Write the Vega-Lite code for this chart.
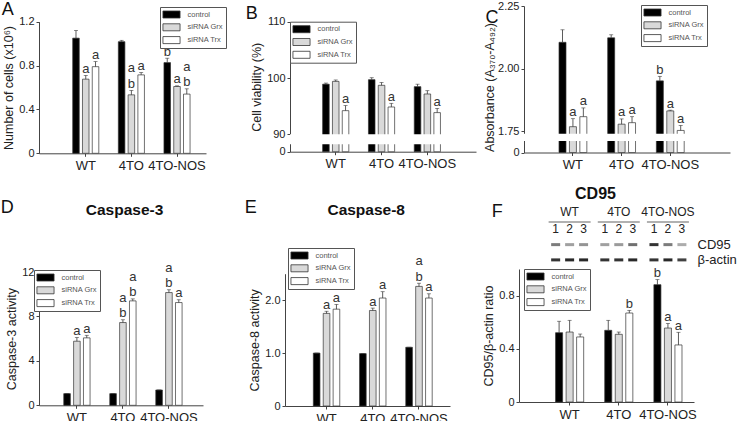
{
"$schema": "https://vega.github.io/schema/vega-lite/v6.json",
"padding": {"left": 0, "top": 0, "right": 0, "bottom": 0},
"background": "white",
"config": {
  "font": "Liberation Sans",
  "view": {"stroke": null},
  "axis": {"grid": false, "labelFont": "Liberation Sans", "titleFont": "Liberation Sans", "labelColor": "#222", "titleColor": "#222", "domainColor": "#444", "tickColor": "#444", "labelFontSize": 11, "titleFontSize": 12.5, "titleFontWeight": "normal", "tickSize": 3, "labelPadding": 2, "titlePadding": 3},
  "axisX": {"labelAngle": 0, "labelFontSize": 13, "labelPadding": 3},
  "axisY": {"labelOverlap": false},
  "legend": {"symbolType": "M-1.9,-0.78H1.9V0.78H-1.9Z", "symbolSize": 81, "symbolOffset": 4, "symbolStrokeColor": "#333", "symbolStrokeWidth": 0.8, "labelFontSize": 7.5, "labelColor": "#555", "labelFont": "Liberation Sans", "strokeColor": "#555", "fillColor": "#ffffff", "padding": 2.5, "rowPadding": 0.8, "labelOffset": 11},
  "title": {"font": "Liberation Sans", "fontSize": 18, "fontWeight": "normal", "anchor": "start", "color": "#111", "offset": 0},
  "text": {"font": "Liberation Sans"}
},
"datasets": {
  "dA": [
    {"cell":"WT","trt":"control","value":1.05,"hi":1.12,"sig":"","sig2":""},
    {"cell":"WT","trt":"siRNA Grx","value":0.676,"hi":0.71,"sig":"a","sig2":""},
    {"cell":"WT","trt":"siRNA Trx","value":0.79,"hi":0.836,"sig":"a","sig2":""},
    {"cell":"4TO","trt":"control","value":1.018,"hi":1.03,"sig":"","sig2":""},
    {"cell":"4TO","trt":"siRNA Grx","value":0.533,"hi":0.573,"sig":"b","sig2":"a"},
    {"cell":"4TO","trt":"siRNA Trx","value":0.715,"hi":0.736,"sig":"a","sig2":""},
    {"cell":"4TO-NOS","trt":"control","value":0.827,"hi":0.867,"sig":"b","sig2":""},
    {"cell":"4TO-NOS","trt":"siRNA Grx","value":0.609,"hi":0.615,"sig":"a","sig2":""},
    {"cell":"4TO-NOS","trt":"siRNA Trx","value":0.54,"hi":0.588,"sig":"b","sig2":"a"}
  ],
  "dB": [
    {"cell":"WT","trt":"control","value":98.9,"hi":99.1,"sig":"","sig2":""},
    {"cell":"WT","trt":"siRNA Grx","value":99.4,"hi":99.65,"sig":"","sig2":""},
    {"cell":"WT","trt":"siRNA Trx","value":94.2,"hi":95.1,"sig":"a","sig2":""},
    {"cell":"4TO","trt":"control","value":99.7,"hi":100.05,"sig":"","sig2":""},
    {"cell":"4TO","trt":"siRNA Grx","value":98.7,"hi":99.2,"sig":"","sig2":""},
    {"cell":"4TO","trt":"siRNA Trx","value":94.85,"hi":95.5,"sig":"a","sig2":""},
    {"cell":"4TO-NOS","trt":"control","value":98.46,"hi":98.9,"sig":"","sig2":""},
    {"cell":"4TO-NOS","trt":"siRNA Grx","value":97.16,"hi":97.75,"sig":"","sig2":""},
    {"cell":"4TO-NOS","trt":"siRNA Trx","value":93.85,"hi":94.6,"sig":"a","sig2":""}
  ],
  "dC": [
    {"cell":"WT","trt":"control","value":2.105,"hi":2.155,"sig":"","sig2":""},
    {"cell":"WT","trt":"siRNA Grx","value":1.768,"hi":1.8,"sig":"a","sig2":""},
    {"cell":"WT","trt":"siRNA Trx","value":1.808,"hi":1.843,"sig":"a","sig2":""},
    {"cell":"4TO","trt":"control","value":2.123,"hi":2.135,"sig":"","sig2":""},
    {"cell":"4TO","trt":"siRNA Grx","value":1.778,"hi":1.799,"sig":"a","sig2":""},
    {"cell":"4TO","trt":"siRNA Trx","value":1.784,"hi":1.808,"sig":"a","sig2":""},
    {"cell":"4TO-NOS","trt":"control","value":1.951,"hi":1.969,"sig":"b","sig2":""},
    {"cell":"4TO-NOS","trt":"siRNA Grx","value":1.831,"hi":1.834,"sig":"a","sig2":""},
    {"cell":"4TO-NOS","trt":"siRNA Trx","value":1.753,"hi":1.773,"sig":"a","sig2":""}
  ],
  "dD": [
    {"cell":"WT","trt":"control","value":1.05,"hi":1.05,"sig":"","sig2":""},
    {"cell":"WT","trt":"siRNA Grx","value":5.77,"hi":6.1,"sig":"a","sig2":""},
    {"cell":"WT","trt":"siRNA Trx","value":6.07,"hi":6.3,"sig":"a","sig2":""},
    {"cell":"4TO","trt":"control","value":1.05,"hi":1.05,"sig":"","sig2":""},
    {"cell":"4TO","trt":"siRNA Grx","value":7.45,"hi":7.7,"sig":"b","sig2":"a"},
    {"cell":"4TO","trt":"siRNA Trx","value":9.4,"hi":9.58,"sig":"b","sig2":"a"},
    {"cell":"4TO-NOS","trt":"control","value":1.38,"hi":1.38,"sig":"","sig2":""},
    {"cell":"4TO-NOS","trt":"siRNA Grx","value":10.15,"hi":10.4,"sig":"b","sig2":"a"},
    {"cell":"4TO-NOS","trt":"siRNA Trx","value":9.25,"hi":9.5,"sig":"a","sig2":""}
  ],
  "dE": [
    {"cell":"WT","trt":"control","value":1.0,"hi":1.0,"sig":"","sig2":""},
    {"cell":"WT","trt":"siRNA Grx","value":1.75,"hi":1.79,"sig":"a","sig2":""},
    {"cell":"WT","trt":"siRNA Trx","value":1.83,"hi":1.92,"sig":"a","sig2":""},
    {"cell":"4TO","trt":"control","value":0.99,"hi":0.99,"sig":"","sig2":""},
    {"cell":"4TO","trt":"siRNA Grx","value":1.805,"hi":1.85,"sig":"a","sig2":""},
    {"cell":"4TO","trt":"siRNA Trx","value":2.04,"hi":2.16,"sig":"a","sig2":""},
    {"cell":"4TO-NOS","trt":"control","value":1.11,"hi":1.11,"sig":"","sig2":""},
    {"cell":"4TO-NOS","trt":"siRNA Grx","value":2.26,"hi":2.32,"sig":"b","sig2":"a"},
    {"cell":"4TO-NOS","trt":"siRNA Trx","value":2.04,"hi":2.12,"sig":"a","sig2":""}
  ],
  "dF": [
    {"cell":"WT","trt":"control","value":0.521,"hi":0.607,"sig":"","sig2":""},
    {"cell":"WT","trt":"siRNA Grx","value":0.526,"hi":0.614,"sig":"","sig2":""},
    {"cell":"WT","trt":"siRNA Trx","value":0.489,"hi":0.511,"sig":"","sig2":""},
    {"cell":"4TO","trt":"control","value":0.539,"hi":0.614,"sig":"","sig2":""},
    {"cell":"4TO","trt":"siRNA Grx","value":0.509,"hi":0.526,"sig":"","sig2":""},
    {"cell":"4TO","trt":"siRNA Trx","value":0.669,"hi":0.689,"sig":"b","sig2":""},
    {"cell":"4TO-NOS","trt":"control","value":0.882,"hi":0.92,"sig":"b","sig2":""},
    {"cell":"4TO-NOS","trt":"siRNA Grx","value":0.556,"hi":0.591,"sig":"a","sig2":""},
    {"cell":"4TO-NOS","trt":"siRNA Trx","value":0.429,"hi":0.524,"sig":"a","sig2":""}
  ],
  "blot": [
    {"cell":"WT","lane":"1","band":"CD95","level":0.55},
    {"cell":"WT","lane":"2","band":"CD95","level":0.4},
    {"cell":"WT","lane":"3","band":"CD95","level":0.45},
    {"cell":"4TO","lane":"1","band":"CD95","level":0.4},
    {"cell":"4TO","lane":"2","band":"CD95","level":0.42},
    {"cell":"4TO","lane":"3","band":"CD95","level":0.6},
    {"cell":"4TO-NOS","lane":"1","band":"CD95","level":0.85},
    {"cell":"4TO-NOS","lane":"2","band":"CD95","level":0.55},
    {"cell":"4TO-NOS","lane":"3","band":"CD95","level":0.35},
    {"cell":"WT","lane":"1","band":"β-actin","level":0.85},
    {"cell":"WT","lane":"2","band":"β-actin","level":0.9},
    {"cell":"WT","lane":"3","band":"β-actin","level":0.9},
    {"cell":"4TO","lane":"1","band":"β-actin","level":0.85},
    {"cell":"4TO","lane":"2","band":"β-actin","level":0.85},
    {"cell":"4TO","lane":"3","band":"β-actin","level":0.9},
    {"cell":"4TO-NOS","lane":"1","band":"β-actin","level":0.85},
    {"cell":"4TO-NOS","lane":"2","band":"β-actin","level":0.9},
    {"cell":"4TO-NOS","lane":"3","band":"β-actin","level":0.8}
  ],
  "groups": [{"cell":"WT"},{"cell":"4TO"},{"cell":"4TO-NOS"}]
},
"resolve": {"scale": {"color": "independent", "xOffset": "independent", "opacity": "independent"}},
"spacing": 13,
"vconcat": [
 {
  "spacing": 18,
  "resolve": {"scale": {"color": "independent", "xOffset": "independent", "opacity": "independent"}},
  "hconcat": [
   {
    "width": 167, "height": 147.3,
    "title": {"text": "A", "offset": -17, "dx": -1},
    "layer": [
     {
      "data": {"name": "dA"},
      "encoding": {
        "x": {"field": "cell", "type": "nominal", "sort": ["WT","4TO","4TO-NOS"], "title": null, "scale": {"paddingInner": 0, "paddingOuter": 0.33, "align": 0.795}},
        "xOffset": {"field": "trt", "type": "nominal", "sort": ["control","siRNA Grx","siRNA Trx"], "scale": {"paddingInner": 0.33, "paddingOuter": 1.2}}
      },
      "layer": [
        {"mark": {"type": "bar", "stroke": "#333", "strokeWidth": 0.7},
         "encoding": {
           "y": {"field": "value", "type": "quantitative", "scale": {"domain": [0, 1.2], "range": [147.3, 15.7], "nice": false}, "axis": {"title": "Number of cells (x10⁶)", "values": [0,0.2,0.4,0.6,0.8,1,1.2], "labelExpr": "datum.value == 0 ? '0' : format(datum.value, '.1f')"}},
           "color": {"field": "trt", "type": "nominal", "scale": {"domain": ["control","siRNA Grx","siRNA Trx"], "range": ["#000000","#d9d9d9","#ffffff"]}, "legend": {"orient": "none", "legendX": 121, "legendY": 1, "title": null}}
         }},
        {"mark": {"type": "rule", "color": "#333", "strokeWidth": 0.8}, "encoding": {"y": {"field": "value", "type": "quantitative"}, "y2": {"field": "hi"}}},
        {"mark": {"type": "tick", "orient": "horizontal", "size": 4, "thickness": 0.8, "color": "#333"}, "encoding": {"y": {"field": "hi", "type": "quantitative"}}},
        {"mark": {"type": "text", "baseline": "alphabetic", "dy": -2.5, "fontSize": 13, "color": "#333"}, "encoding": {"y": {"field": "hi", "type": "quantitative"}, "text": {"field": "sig"}}},
        {"mark": {"type": "text", "baseline": "alphabetic", "dy": -18, "fontSize": 13, "color": "#333"}, "encoding": {"y": {"field": "hi", "type": "quantitative"}, "text": {"field": "sig2"}}}
      ]
     }
    ]
   },
   {
    "spacing": 7,
    "resolve": {"scale": {"color": "independent", "xOffset": "independent", "opacity": "independent"}},
    "hconcat": [
     {
      "width": 186, "height": 145.7,
      "title": {"text": "B", "offset": -17, "dx": -5},
      "layer": [
       {
        "data": {"name": "dB"},
        "encoding": {
          "x": {"field": "cell", "type": "nominal", "sort": ["WT","4TO","4TO-NOS"], "title": null, "scale": {"paddingInner": 0, "paddingOuter": 0.53, "align": 0.47}},
          "xOffset": {"field": "trt", "type": "nominal", "sort": ["control","siRNA Grx","siRNA Trx"], "scale": {"paddingInner": 0.33, "paddingOuter": 1.2}}
        },
        "layer": [
          {"mark": {"type": "bar", "stroke": "#333", "strokeWidth": 0.7},
           "encoding": {
             "y": {"field": "value", "type": "quantitative", "scale": {"domain": [0, 10, 90, 110], "range": [145.7, 138.3, 128.3, 15.7], "nice": false, "zero": false}, "axis": {"title": "Cell viability (%)", "values": [0,10,90,95,100,105,110]}},
             "color": {"field": "trt", "type": "nominal", "scale": {"domain": ["control","siRNA Grx","siRNA Trx"], "range": ["#000000","#d9d9d9","#ffffff"]}, "legend": {"orient": "none", "legendX": 0, "legendY": 15.7, "title": null}}
           }},
          {"mark": {"type": "rule", "color": "#333", "strokeWidth": 0.8}, "encoding": {"y": {"field": "value", "type": "quantitative"}, "y2": {"field": "hi"}}},
          {"mark": {"type": "tick", "orient": "horizontal", "size": 4, "thickness": 0.8, "color": "#333"}, "encoding": {"y": {"field": "hi", "type": "quantitative"}}},
          {"mark": {"type": "text", "baseline": "alphabetic", "dy": -2.5, "fontSize": 13, "color": "#333"}, "encoding": {"y": {"field": "hi", "type": "quantitative"}, "text": {"field": "sig"}}}
        ]
       },
       {
        "data": {"values": [{"b0": 10, "b1": 90}]},
        "mark": {"type": "rect", "color": "#ffffff"},
        "encoding": {"y": {"field": "b0", "type": "quantitative"}, "y2": {"field": "b1"}}
       }
      ]
     },
     {
      "width": 206, "height": 146.5,
      "title": {"text": "C", "offset": -27, "dx": 2},
      "layer": [
       {
        "data": {"name": "dC"},
        "encoding": {
          "x": {"field": "cell", "type": "nominal", "sort": ["WT","4TO","4TO-NOS"], "title": null, "scale": {"paddingInner": 0, "paddingOuter": 0.616, "align": 0.41}},
          "xOffset": {"field": "trt", "type": "nominal", "sort": ["control","siRNA Grx","siRNA Trx"], "scale": {"paddingInner": 0.33, "paddingOuter": 1.37}}
        },
        "layer": [
          {"mark": {"type": "bar", "stroke": "#333", "strokeWidth": 0.7},
           "encoding": {
             "y": {"field": "value", "type": "quantitative", "scale": {"domain": [0, 0.5, 1.74, 2.25], "range": [146.5, 135, 127.7, 0], "nice": false, "zero": false}, "axis": {"title": "Absorbance (A₃₇₀-A₄₉₂)", "titlePadding": 1, "titleY": 81, "values": [0,1.75,2,2.25], "labelExpr": "datum.value == 0 ? '0' : format(datum.value, '.2f')"}},
             "color": {"field": "trt", "type": "nominal", "scale": {"domain": ["control","siRNA Grx","siRNA Trx"], "range": ["#000000","#d9d9d9","#ffffff"]}, "legend": {"orient": "none", "legendX": 117, "legendY": -1, "title": null}}
           }},
          {"mark": {"type": "rule", "color": "#333", "strokeWidth": 0.8}, "encoding": {"y": {"field": "value", "type": "quantitative"}, "y2": {"field": "hi"}}},
          {"mark": {"type": "tick", "orient": "horizontal", "size": 4, "thickness": 0.8, "color": "#333"}, "encoding": {"y": {"field": "hi", "type": "quantitative"}}},
          {"mark": {"type": "text", "baseline": "alphabetic", "dy": -2.5, "fontSize": 13, "color": "#333"}, "encoding": {"y": {"field": "hi", "type": "quantitative"}, "text": {"field": "sig"}}}
        ]
       },
       {
        "data": {"values": [{"b0": 0.5, "b1": 1.74}]},
        "mark": {"type": "rect", "color": "#ffffff"},
        "encoding": {"y": {"field": "b0", "type": "quantitative"}, "y2": {"field": "b1"}}
       }
      ]
     }
    ]
   }
  ]
 },
 {
  "spacing": 41,
  "resolve": {"scale": {"color": "independent", "xOffset": "independent", "opacity": "independent"}},
  "hconcat": [
   {
    "title": {"text": "D", "offset": -14, "dx": -5},
    "resolve": {"scale": {"color": "independent", "xOffset": "independent", "opacity": "independent"}},
    "vconcat": [
     {
      "width": 164, "height": 197.3,
      "title": {"text": "Caspase-3", "fontSize": 15.5, "fontWeight": "bold", "anchor": "middle", "frame": "group", "offset": -10.8, "dx": 3.5},
      "data": {"name": "dD"},
      "encoding": {
        "x": {"field": "cell", "type": "nominal", "sort": ["WT","4TO","4TO-NOS"], "title": null, "scale": {"paddingInner": 0, "paddingOuter": 0.282, "align": 0.574}},
        "xOffset": {"field": "trt", "type": "nominal", "sort": ["control","siRNA Grx","siRNA Trx"], "scale": {"paddingInner": 0.33, "paddingOuter": 1.22}}
      },
      "layer": [
        {"mark": {"type": "bar", "stroke": "#333", "strokeWidth": 0.7},
         "encoding": {
           "y": {"field": "value", "type": "quantitative", "scale": {"domain": [0, 12], "range": [197.3, 64], "nice": false}, "axis": {"title": "Caspase-3 activity", "values": [0,2,4,6,8,10,12], "format": "d"}},
           "color": {"field": "trt", "type": "nominal", "scale": {"domain": ["control","siRNA Grx","siRNA Trx"], "range": ["#000000","#d9d9d9","#ffffff"]}, "legend": {"orient": "none", "legendX": -5, "legendY": 62, "title": null}}
         }},
        {"mark": {"type": "rule", "color": "#333", "strokeWidth": 0.8}, "encoding": {"y": {"field": "value", "type": "quantitative"}, "y2": {"field": "hi"}}},
        {"mark": {"type": "tick", "orient": "horizontal", "size": 4, "thickness": 0.8, "color": "#333"}, "encoding": {"y": {"field": "hi", "type": "quantitative"}}},
        {"mark": {"type": "text", "baseline": "alphabetic", "dy": -2.5, "fontSize": 13, "color": "#333"}, "encoding": {"y": {"field": "hi", "type": "quantitative"}, "text": {"field": "sig"}}},
        {"mark": {"type": "text", "baseline": "alphabetic", "dy": -18, "fontSize": 13, "color": "#333"}, "encoding": {"y": {"field": "hi", "type": "quantitative"}, "text": {"field": "sig2"}}}
      ]
     }
    ]
   },
   {
    "spacing": 32,
    "resolve": {"scale": {"color": "independent", "xOffset": "independent", "opacity": "independent"}},
    "hconcat": [
     {
      "title": {"text": "E", "offset": -14, "dx": -4},
      "resolve": {"scale": {"color": "independent", "xOffset": "independent", "opacity": "independent"}},
      "vconcat": [
       {
        "width": 165, "height": 198,
        "title": {"text": "Caspase-8", "fontSize": 15.5, "fontWeight": "bold", "anchor": "middle", "frame": "group", "offset": -10.8, "dx": -1.3},
        "data": {"name": "dE"},
        "encoding": {
          "x": {"field": "cell", "type": "nominal", "sort": ["WT","4TO","4TO-NOS"], "title": null, "scale": {"paddingInner": 0, "paddingOuter": 0.285, "align": 0.7}},
          "xOffset": {"field": "trt", "type": "nominal", "sort": ["control","siRNA Grx","siRNA Trx"], "scale": {"paddingInner": 0.33, "paddingOuter": 1.23}}
        },
        "layer": [
          {"mark": {"type": "bar", "stroke": "#333", "strokeWidth": 0.7},
           "encoding": {
             "y": {"field": "value", "type": "quantitative", "scale": {"domain": [0, 2.5], "range": [198, 65.7], "nice": false}, "axis": {"title": "Caspase-8 activity", "values": [0,0.5,1,1.5,2,2.5], "labelExpr": "datum.value == 0 ? '0' : format(datum.value, '.1f')"}},
             "color": {"field": "trt", "type": "nominal", "scale": {"domain": ["control","siRNA Grx","siRNA Trx"], "range": ["#000000","#d9d9d9","#ffffff"]}, "legend": {"orient": "none", "legendX": 3, "legendY": 40, "title": null}}
           }},
          {"mark": {"type": "rule", "color": "#333", "strokeWidth": 0.8}, "encoding": {"y": {"field": "value", "type": "quantitative"}, "y2": {"field": "hi"}}},
          {"mark": {"type": "tick", "orient": "horizontal", "size": 4, "thickness": 0.8, "color": "#333"}, "encoding": {"y": {"field": "hi", "type": "quantitative"}}},
          {"mark": {"type": "text", "baseline": "alphabetic", "dy": -2.5, "fontSize": 13, "color": "#333"}, "encoding": {"y": {"field": "hi", "type": "quantitative"}, "text": {"field": "sig"}}},
          {"mark": {"type": "text", "baseline": "alphabetic", "dy": -18, "fontSize": 13, "color": "#333"}, "encoding": {"y": {"field": "hi", "type": "quantitative"}, "text": {"field": "sig2"}}}
        ]
       }
      ]
     },
     {
      "title": {"text": "F", "offset": -35, "dx": 9},
      "resolve": {"scale": {"color": "independent", "xOffset": "independent", "opacity": "independent"}},
      "spacing": 0,
      "vconcat": [
       {
        "width": 175, "height": 58,
        "title": {"text": "CD95", "fontSize": 16, "fontWeight": "bold", "anchor": "middle", "frame": "group", "dx": -11, "offset": 4},
        "layer": [
          {"data": {"name": "blot"},
           "mark": {"type": "tick", "orient": "horizontal", "size": 9, "thickness": 3, "color": "#111"},
           "encoding": {
             "x": {"field": "cell", "type": "nominal", "sort": ["WT","4TO","4TO-NOS"], "axis": null, "scale": {"paddingInner": 0, "paddingOuter": 0.28, "align": 0.946}},
             "xOffset": {"field": "lane", "type": "nominal", "scale": {"paddingInner": 0, "paddingOuter": 0.26}},
             "y": {"field": "band", "type": "nominal", "scale": {"type": "point", "domain": ["head","lane","CD95","β-actin"], "padding": 0.4}, "axis": {"orient": "right", "title": null, "domain": false, "ticks": false, "labelFontSize": 13, "labelPadding": 3, "labelExpr": "datum.value == 'CD95' || datum.value == 'β-actin' ? datum.value : ''"}},
             "opacity": {"field": "level", "type": "quantitative", "scale": {"domain": [0, 1], "range": [0, 1]}, "legend": null}
           }},
          {"data": {"name": "blot"},
           "transform": [{"filter": "datum.band == 'CD95'"}],
           "mark": {"type": "text", "fontSize": 12, "color": "#222"},
           "encoding": {
             "x": {"field": "cell", "type": "nominal", "sort": ["WT","4TO","4TO-NOS"], "axis": null},
             "xOffset": {"field": "lane", "type": "nominal"},
             "y": {"datum": "lane", "type": "nominal"},
             "text": {"field": "lane"}
           }},
          {"data": {"name": "groups"},
           "mark": {"type": "text", "fontSize": 12, "dy": -2, "color": "#222"},
           "encoding": {
             "x": {"field": "cell", "type": "nominal", "sort": ["WT","4TO","4TO-NOS"], "axis": null},
             "y": {"datum": "head", "type": "nominal"},
             "text": {"field": "cell"}
           }},
          {"data": {"name": "groups"},
           "mark": {"type": "tick", "orient": "horizontal", "size": 42, "thickness": 1, "color": "#222", "yOffset": 8},
           "encoding": {
             "x": {"field": "cell", "type": "nominal", "sort": ["WT","4TO","4TO-NOS"], "axis": null},
             "y": {"datum": "head", "type": "nominal"}
           }}
        ]
       },
       {
        "width": 175, "height": 133,
        "data": {"name": "dF"},
        "encoding": {
          "x": {"field": "cell", "type": "nominal", "sort": ["WT","4TO","4TO-NOS"], "title": null, "scale": {"paddingInner": 0, "paddingOuter": 0.28, "align": 0.946}},
          "xOffset": {"field": "trt", "type": "nominal", "sort": ["control","siRNA Grx","siRNA Trx"], "scale": {"paddingInner": 0.33, "paddingOuter": 1.35}}
        },
        "layer": [
          {"mark": {"type": "bar", "stroke": "#333", "strokeWidth": 0.7},
           "encoding": {
             "y": {"field": "value", "type": "quantitative", "scale": {"domain": [0, 1], "nice": false}, "axis": {"title": "CD95/β-actin ratio", "values": [0,0.2,0.4,0.6,0.8,1], "labelExpr": "datum.value == 0 ? '0' : format(datum.value, '.1f')"}},
             "color": {"field": "trt", "type": "nominal", "scale": {"domain": ["control","siRNA Grx","siRNA Trx"], "range": ["#000000","#d9d9d9","#ffffff"]}, "legend": {"orient": "none", "legendX": 5, "legendY": 0, "title": null}}
           }},
          {"mark": {"type": "rule", "color": "#333", "strokeWidth": 0.8}, "encoding": {"y": {"field": "value", "type": "quantitative"}, "y2": {"field": "hi"}}},
          {"mark": {"type": "tick", "orient": "horizontal", "size": 4, "thickness": 0.8, "color": "#333"}, "encoding": {"y": {"field": "hi", "type": "quantitative"}}},
          {"mark": {"type": "text", "baseline": "alphabetic", "dy": -2.5, "fontSize": 13, "color": "#333"}, "encoding": {"y": {"field": "hi", "type": "quantitative"}, "text": {"field": "sig"}}}
        ]
       }
      ]
     }
    ]
   }
  ]
 }
]
}
